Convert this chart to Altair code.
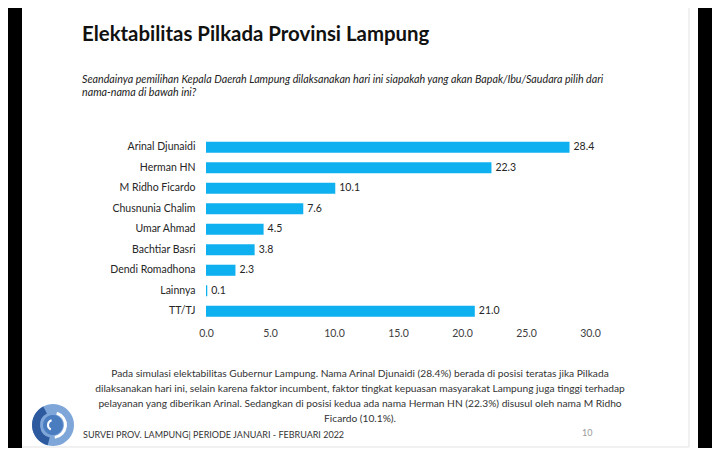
import altair as alt
import pandas as pd

names = ["Arinal Djunaidi", "Herman HN", "M Ridho Ficardo", "Chusnunia Chalim",
         "Umar Ahmad", "Bachtiar Basri", "Dendi Romadhona", "Lainnya", "TT/TJ"]
values = [28.4, 22.3, 10.1, 7.6, 4.5, 3.8, 2.3, 0.1, 21.0]
x_ticks = [0, 5, 10, 15, 20, 25, 30]

title_text = "Elektabilitas Pilkada Provinsi Lampung"
subtitle_lines = [
    "Seandainya pemilihan Kepala Daerah Lampung dilaksanakan hari ini siapakah yang akan Bapak/Ibu/Saudara pilih dari",
    "nama-nama di bawah ini?",
]
footer_lines = [
    "Pada simulasi elektabilitas Gubernur Lampung. Nama Arinal Djunaidi (28.4%) berada di posisi teratas jika Pilkada",
    "dilaksanakan hari ini, selain karena faktor incumbent, faktor tingkat kepuasan masyarakat Lampung juga tinggi terhadap",
    "pelayanan yang diberikan Arinal.  Sedangkan di posisi kedua ada nama Herman HN (22.3%) disusul oleh nama M Ridho",
    "Ficardo (10.1%).",
]
survey_text = "SURVEI PROV. LAMPUNG| PERIODE JANUARI - FEBRUARI 2022"
page_no = "10"

FONT = "Lato"
df = pd.DataFrame({"name": names, "value": values})
one = pd.DataFrame({"a": [0]})

# plot origin is at page (206, 137)
OX, OY = 206, 137

def px(X):
    return X - OX

def py(Y):
    return Y - OY

slide = alt.Chart(one).mark_rect(color="white").encode(
    x=alt.value(px(22)), x2=alt.value(px(698)),
    y=alt.value(py(0)), y2=alt.value(py(460)),
)
vborder = alt.Chart(one).mark_rule(color="#e3e3e3", strokeWidth=1).encode(
    x=alt.value(px(689)), y=alt.value(py(0)), y2=alt.value(py(447)),
)
hborder = alt.Chart(one).mark_rule(color="#e3e3e3", strokeWidth=1).encode(
    x=alt.value(px(22)), x2=alt.value(px(689)), y=alt.value(py(447)),
)

LX, LY = px(53), py(425)

def logo_arc(color, r0, r1, t0, t1):
    return alt.Chart(one).mark_arc(color=color, innerRadius=r0, outerRadius=r1,
                                   theta=t0, theta2=t1).encode(
        x=alt.value(LX), y=alt.value(LY))

logo = [
    logo_arc("#7ea6d9", 0, 21, 0, 6.283),
    logo_arc("#2d5a9e", 13, 21, 3.4, 5.8),
    logo_arc("#ffffff", 11, 14, 0.3, 3.0),
    logo_arc("#4a7cc0", 0, 10, 0, 6.283),
    logo_arc("#ffffff", 4, 6, 3.6, 6.0),
]

title = alt.Chart(one).mark_text(align="left", baseline="alphabetic", font=FONT,
                                 fontSize=20.4, fontWeight="bold", color="#111111").encode(
    x=alt.value(px(82)), y=alt.value(py(41)), text=alt.value(title_text),
)
subtitle = alt.Chart(one).mark_text(align="left", baseline="alphabetic", font=FONT,
                                    fontSize=10.7, fontStyle="italic", color="#222222",
                                    lineHeight=13).encode(
    x=alt.value(px(82)), y=alt.value(py(83)), text=alt.value(subtitle_lines),
)

bars = alt.Chart(df).mark_bar(color="#0fb0ef").encode(
    x=alt.X("value:Q", scale=alt.Scale(domain=[0, 30], nice=False),
            axis=alt.Axis(values=x_ticks, format=".1f", grid=False, domain=False,
                          ticks=False, labelPadding=7, title=None, labelFont=FONT,
                          labelFontSize=10.5, labelColor="#404040", labelFlush=False,
                          zindex=1)),
    y=alt.Y("name:N", sort=names, scale=alt.Scale(paddingInner=0.46, paddingOuter=0.23),
            axis=alt.Axis(title=None, ticks=False, domain=False, labelPadding=11,
                          labelFont=FONT, labelFontSize=10.5, labelColor="#262626",
                          zindex=1)),
)
bar_labels = alt.Chart(df).mark_text(align="left", dx=4, font=FONT, fontSize=10.5,
                                     color="#262626").encode(
    x="value:Q", y=alt.Y("name:N", sort=names), text=alt.Text("value:Q", format=".1f"),
)

footer = alt.Chart(one).mark_text(align="center", baseline="alphabetic", font=FONT,
                                  fontSize=10.2, color="#333333", lineHeight=15).encode(
    x=alt.value(px(360)), y=alt.value(py(377)), text=alt.value(footer_lines),
)
survey = alt.Chart(one).mark_text(align="left", baseline="alphabetic", font=FONT,
                                  fontSize=9.0, color="#333333").encode(
    x=alt.value(px(83)), y=alt.value(py(438)), text=alt.value(survey_text),
)
pnum = alt.Chart(one).mark_text(align="left", baseline="alphabetic", font=FONT,
                                fontSize=9, color="#999999").encode(
    x=alt.value(px(582)), y=alt.value(py(436)), text=alt.value(page_no),
)

chart = alt.layer(
    slide, vborder, hborder, *logo,
    title, subtitle, bars, bar_labels, footer, survey, pnum,
).properties(
    width=384, height=184.5,
    autosize=alt.AutoSizeParams(type="none"),
    padding={"left": 198, "top": 129, "right": 122, "bottom": 126.5},
    background="black",
).configure_view(stroke=None, clip=False)

chart.save("out.html", embed_options={"renderer": "svg", "actions": False})
